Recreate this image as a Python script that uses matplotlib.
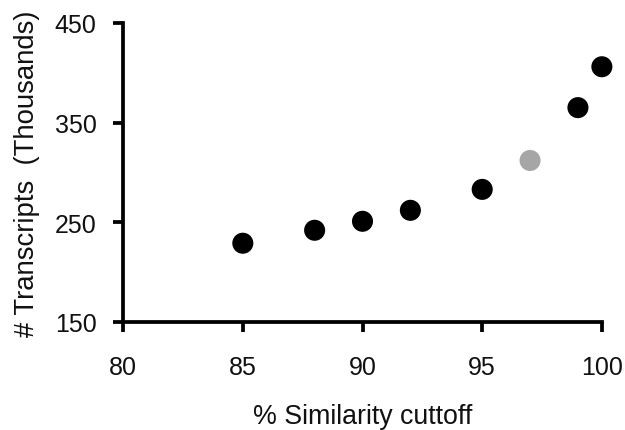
import matplotlib
matplotlib.use("Agg")
import matplotlib.pyplot as plt

plt.rcParams['font.family'] = ['Liberation Sans', 'DejaVu Sans']

similarity = [85, 88, 90, 92, 95, 97, 99, 100]
transcripts = [229, 242, 251, 262, 283, 312, 365, 406]
colors = ['black', 'black', 'black', 'black', 'black', '#a6a6a6', 'black', 'black']

x_ticks = [80, 85, 90, 95, 100]
y_ticks = [150, 250, 350, 450]

fig = plt.figure(figsize=(6.25, 4.31), dpi=100)
ax = fig.add_axes([0.197, 0.2506, 0.766, 0.694])

ax.scatter(similarity, transcripts, s=230, c=colors, edgecolors='none', zorder=3, clip_on=False)

ax.set_xlim(80, 100)
ax.set_ylim(150, 450)
ax.set_xticks(x_ticks)
ax.set_yticks(y_ticks)

for side in ['top', 'right']:
    ax.spines[side].set_visible(False)
for side in ['left', 'bottom']:
    ax.spines[side].set_linewidth(2.7)

ax.tick_params(axis='both', direction='out', length=7, width=2.7, labelsize=18,
               colors='black', labelcolor='#111111')
ax.tick_params(axis='x', pad=17)
ax.tick_params(axis='y', pad=12)

ax.set_xlabel('% Similarity cuttoff', fontsize=19.3, labelpad=17, color='#111111')
ax.set_ylabel('# Transcripts  (Thousands)', fontsize=19.8, labelpad=11, color='#111111')

fig.savefig('out.png', dpi=100, facecolor='white')
